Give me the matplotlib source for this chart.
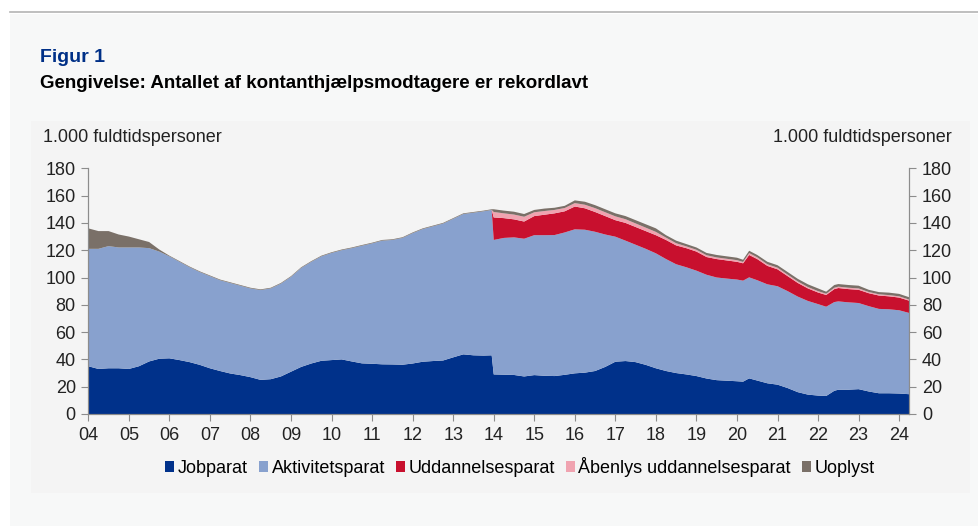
import matplotlib.pyplot as plt
from matplotlib.patches import Patch, Rectangle
from matplotlib.lines import Line2D

plt.rcParams['font.family'] = ['Liberation Sans', 'DejaVu Sans']

# decimal years (quarterly readings, a few extra points around breaks)
t = [2004.00, 2004.25, 2004.50, 2004.75, 2005.00, 2005.25, 2005.50, 2005.75,
     2006.00, 2006.25, 2006.50, 2006.75, 2007.00, 2007.25, 2007.50, 2007.75,
     2008.00, 2008.25, 2008.50, 2008.75, 2009.00, 2009.25, 2009.50, 2009.75,
     2010.00, 2010.25, 2010.50, 2010.75, 2011.00, 2011.25, 2011.50, 2011.75,
     2012.00, 2012.25, 2012.50, 2012.75, 2013.00, 2013.25, 2013.50, 2013.75,
     2013.95,
     2014.00, 2014.25, 2014.50, 2014.75, 2015.00, 2015.25, 2015.50, 2015.75,
     2016.00, 2016.25, 2016.50, 2016.75, 2017.00, 2017.25, 2017.50, 2017.75,
     2018.00, 2018.25, 2018.50, 2018.75, 2019.00, 2019.25, 2019.50, 2019.75,
     2020.00, 2020.15, 2020.30, 2020.50, 2020.75, 2021.00, 2021.25, 2021.50,
     2021.75, 2022.00, 2022.20, 2022.40, 2022.50, 2022.75, 2023.00, 2023.25,
     2023.50, 2023.75, 2024.00, 2024.25]

jobparat = [35, 33, 33.5, 33.5, 33, 35, 38.5, 40.5,
            40.8, 39.5, 38, 36, 33.5, 31.5, 29.7, 28.5,
            27, 25, 25.5, 27.5, 31, 34.5, 37, 39,
            39.5, 40, 38.5, 37.1, 36.8, 36.4, 36.3, 36.1,
            37, 38.3, 38.8, 39.2, 41.5, 43.7, 43, 42.8,
            43,
            29, 28.8, 28.6, 27.5, 28.5, 28, 27.8, 28.7,
            29.8, 30.3, 31.5, 34.5, 38.3, 38.8, 38, 36,
            33.5, 31.5, 30, 29, 27.8, 26, 24.8, 24.4,
            24, 23.7, 26.1, 24.5, 22.5, 21.5, 19, 16,
            14.2, 13.5, 13.2, 17, 17.8, 17.8, 18.2, 16.5,
            15.2, 15.2, 15, 14.5]

aktivitetsparat = [86, 88, 89.5, 88.5, 89, 87, 83, 78.5,
                   74.7, 72, 69.5, 68, 67.5, 66.5, 66.3, 65.5,
                   65, 65.8, 66.5, 68, 69.5, 72.5, 74.5, 76.5,
                   78.5, 80, 83, 86.2, 88.2, 90.6, 91.2, 92.9,
                   95.5, 97.2, 98.7, 100.3, 101.5, 102.8, 104.5, 105.7,
                   106.5,
                   98.5, 100.2, 100.8, 100.9, 102.5, 103, 103.3, 104.3,
                   105.5, 104.7, 102, 97, 91.6, 88.2, 86, 85,
                   84.2, 82, 79.7, 78.5, 77.2, 76, 75.2, 74.8,
                   74.5, 74, 74, 73.5, 72.5, 72.1, 71, 70,
                   68.6, 67, 65.4, 65, 64.7, 64, 63.1, 62.5,
                   61.8, 61.5, 61, 59.5]

uddannelsesparat = [0] * 41 + [
    16.5, 14.5, 13.2, 12.6, 14, 15, 15.9, 15.5,
    16.7, 15.7, 14.5, 13.5, 12.1, 13, 13, 13,
    13.3, 14, 13.8, 14, 14, 13, 13.5, 13.3,
    13, 12.7, 16.4, 15.5, 13.5, 12.4, 11, 10,
    9.2, 8.5, 8.6, 9.5, 9.8, 9.7, 9.7, 9.5,
    9.8, 9.5, 9.3, 9]

aabenlys = [0] * 41 + [
    4, 3.5, 3.5, 3.5, 2.8, 2.7, 2.5, 2.4,
    2.5, 2.6, 2.8, 2.8, 2.8, 2.7, 2.6, 2.5,
    2.4, 1.7, 1.6, 1.3, 1.3, 1.3, 1.2, 1.2,
    1.2, 1, 1.4, 1.3, 1.2, 1.2, 1.1, 1.1,
    1, 1, 0.9, 1, 1, 1, 1, 0.9,
    0.9, 0.9, 0.9, 0.8]

uoplyst = [15, 13, 11, 9.5, 8, 6, 4.5, 1.5] + [0.5] * 33 + [
    2, 2, 2.1, 2, 1.7, 1.8, 1.6, 1.6,
    2, 2.2, 2.2, 2.2, 2.2, 2.3, 2.4, 2.5,
    2.6, 1.8, 1.9, 1.7, 1.7, 1.7, 1.8, 1.8,
    1.8, 1.6, 1.7, 1.7, 1.8, 1.8, 1.9, 1.9,
    2, 2, 1.5, 2, 1.9, 2, 2, 1.6,
    1.6, 1.8, 1.8, 1.7]

labels = ['Jobparat', 'Aktivitetsparat', 'Uddannelsesparat',
          'Åbenlys uddannelsesparat', 'Uoplyst']
colors = ['#00318a', '#88a1ce', '#c8102e', '#f0a3b0', '#7a7068']

years = list(range(2004, 2025))
year_labels = [f'{y % 100:02d}' for y in years]
yticks = list(range(0, 181, 20))

fig = plt.figure(figsize=(9.79, 5.26), dpi=100)
fig.patch.set_facecolor('white')

# page panels
fig.add_artist(Rectangle((10 / 979, 0), 969 / 979, 1 - 14 / 526,
                         transform=fig.transFigure, facecolor='#f7f8f8',
                         edgecolor='none', zorder=-3))
fig.add_artist(Line2D([10 / 979, 1], [1 - 12 / 526] * 2, transform=fig.transFigure,
                      color='#b4b4b4', lw=1.2))
fig.add_artist(Rectangle((31 / 979, 1 - 493 / 526), 939 / 979, 372 / 526,
                         transform=fig.transFigure, facecolor='#f4f4f4',
                         edgecolor='none', zorder=-2))

fig.text(40 / 979, 1 - 57 / 526, 'Figur 1', color='#003087', fontsize=14,
         fontweight='bold', va='center')
fig.text(40 / 979, 1 - 84 / 526, 'Gengivelse: Antallet af kontanthjælpsmodtagere er rekordlavt',
         fontsize=13.5, fontweight='bold', va='center')

ax = fig.add_axes([88.3 / 979, 1 - 414 / 526, 821 / 979, 245.7 / 526])
ax.set_facecolor('none')
ax.stackplot(t, jobparat, aktivitetsparat, uddannelsesparat, aabenlys, uoplyst,
             colors=colors, labels=labels, lw=0)

ax.set_xlim(2004, 2024.25)
ax.set_ylim(0, 180)
ax.set_xticks(years)
ax.set_xticklabels(year_labels)
ax.set_yticks(yticks)
for s in ['left', 'right', 'bottom']:
    ax.spines[s].set_color('#8c8c8c')
ax.spines['top'].set_visible(False)
ax.tick_params(axis='both', direction='out', length=5, color='#8c8c8c',
               labelsize=13, labelcolor='#222222')
ax.tick_params(axis='x', pad=4)
ax.tick_params(axis='y', pad=4)

ax2 = ax.twinx()
ax2.set_ylim(0, 180)
ax2.set_yticks(yticks)
for s in ['left', 'right', 'bottom']:
    ax2.spines[s].set_color('#8c8c8c')
ax2.spines['top'].set_visible(False)
ax2.tick_params(axis='y', direction='out', length=5, color='#8c8c8c',
                labelsize=13, labelcolor='#222222', pad=4)

fig.text(43 / 979, 1 - 138 / 526, '1.000 fuldtidspersoner', fontsize=13,
         va='center', color='#222222')
fig.text(952 / 979, 1 - 138 / 526, '1.000 fuldtidspersoner', fontsize=13,
         va='center', ha='right', color='#222222')

handles = [Patch(facecolor=c, edgecolor='none') for c in colors]
fig.legend(handles, labels, loc='center', bbox_to_anchor=(0.531, 1 - 467 / 526),
           ncol=5, frameon=False, fontsize=13, handlelength=0.5, handleheight=0.5,
           handletextpad=0.2, columnspacing=0.6)

fig.savefig('out.png', dpi=100, facecolor=fig.get_facecolor())
